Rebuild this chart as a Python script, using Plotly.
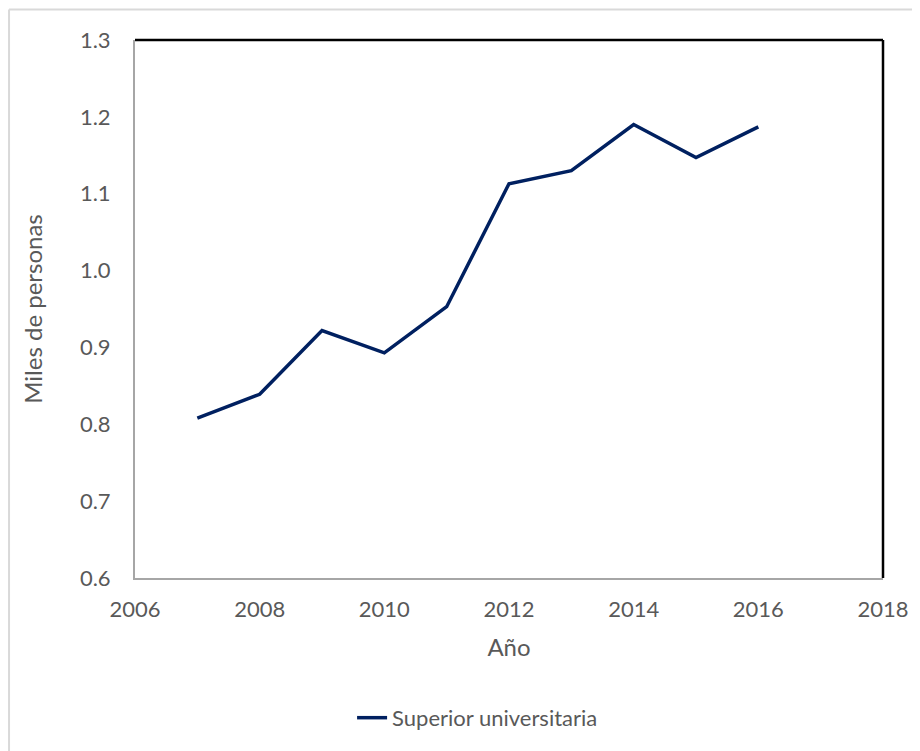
import plotly.graph_objects as go

years = [2007, 2008, 2009, 2010, 2011, 2012, 2013, 2014, 2015, 2016]
values = [0.808, 0.839, 0.922, 0.893, 0.953, 1.113, 1.130, 1.190, 1.147, 1.187]
x_ticks = [2006, 2008, 2010, 2012, 2014, 2016, 2018]
y_ticks = [0.6, 0.7, 0.8, 0.9, 1.0, 1.1, 1.2, 1.3]

FONT = "Lato"
TXT = "#595959"

fig = go.Figure()
fig.add_trace(go.Scatter(
    x=years, y=values, mode="lines", name="Superior universitaria",
    line=dict(color="#002060", width=3.5),
))

fig.update_layout(
    width=920, height=751,
    margin=dict(l=127, r=45, t=32, b=181),
    paper_bgcolor="white", plot_bgcolor="white",
    font=dict(family=FONT, color=TXT, size=22),
    showlegend=True,
    legend=dict(orientation="h", x=0.458, xanchor="center", y=-0.26, yanchor="middle",
                font=dict(size=22, color=TXT)),
    xaxis=dict(range=[2006, 2018], tickvals=x_ticks, ticktext=[str(v) for v in x_ticks],
               showgrid=False, zeroline=False, showline=True, linecolor="#a6a6a6", linewidth=2,
               ticks="", ticklabelstandoff=11, tickfont=dict(size=22),
               title=dict(text="Año", font=dict(size=24, color=TXT), standoff=18)),
    yaxis=dict(range=[0.6, 1.3], tickvals=y_ticks, ticktext=[f"{v:.1f}" for v in y_ticks],
               showgrid=False, zeroline=False, showline=True, linecolor="#a6a6a6", linewidth=2,
               ticks="", ticklabelstandoff=18, tickfont=dict(size=22),
               title=dict(text="Miles de personas", font=dict(size=24, color=TXT), standoff=30)),
    shapes=[
        dict(type="line", xref="paper", yref="paper", x0=0, x1=1, y0=1, y1=1,
             line=dict(color="black", width=2.5)),
        dict(type="line", xref="paper", yref="paper", x0=1, x1=1, y0=0, y1=1,
             line=dict(color="black", width=2.5)),
        dict(type="line", xref="paper", yref="paper", x0=-0.1684, x1=1.2, y0=1.0567, y1=1.0567,
             line=dict(color="#d9d9d9", width=2)),
        dict(type="line", xref="paper", yref="paper", x0=-0.1684, x1=-0.1684, y0=-0.5, y1=1.0567,
             line=dict(color="#d9d9d9", width=2)),
    ],
)

fig.write_html("out.html")
